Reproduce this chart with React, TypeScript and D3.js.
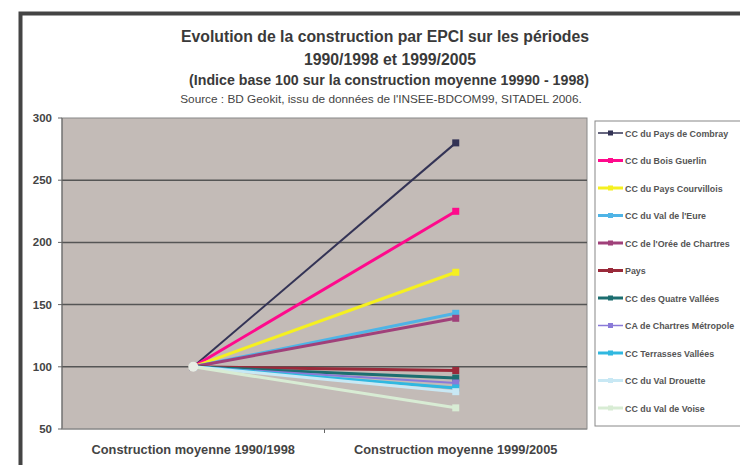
import React from "react";
import * as d3 from "d3";

const categories = ["Construction moyenne 1990/1998", "Construction moyenne 1999/2005"];
const seriesNames = [
  "CC du Pays de Combray",
  "CC du Bois Guerlin",
  "CC du Pays Courvillois",
  "CC du Val de l'Eure",
  "CC de l'Orée de Chartres",
  "Pays",
  "CC des Quatre Vallées",
  "CA de Chartres Métropole",
  "CC Terrasses Vallées",
  "CC du Val Drouette",
  "CC du Val de Voise",
];
const startValues = [100, 100, 100, 100, 100, 100, 100, 100, 100, 100, 100];
const endValues = [280, 225, 176, 143, 139, 97, 91, 87, 83, 80, 67];
const seriesColors = [
  "#333355", "#ff0a8c", "#f5f020", "#4fb4e6", "#a0407a", "#9a2a3a",
  "#1c6e70", "#8a7ad8", "#30b8e0", "#c8e8f4", "#d8ecd4",
];
const yTicks = [50, 100, 150, 200, 250, 300];
const titleLines = [
  "Evolution de la construction par EPCI sur les périodes",
  "1990/1998 et 1999/2005",
  "(Indice base 100 sur la construction moyenne 19990 - 1998)",
];
const sourceText = "Source : BD Geokit, issu de données de l'INSEE-BDCOM99, SITADEL 2006.";

export default function App() {
  const W = 740, H = 465;
  const plot = { left: 62, right: 587, top: 118, bottom: 429 };
  const x = d3.scaleBand<string>().domain(categories).range([plot.left, plot.right]);
  const y = d3.scaleLinear().domain([50, 300]).range([plot.bottom, plot.top]);
  const cx = (c: string) => (x(c) as number) + x.bandwidth() / 2;
  const line = d3.line<[number, number]>().x((d) => d[0]).y((d) => d[1]);
  const legendY0 = 133, legendStep = 27.5;
  const font = "'Liberation Sans', Arial, sans-serif";

  return (
    <svg width={W} height={H} style={{ position: "absolute", left: 0, top: 0, background: "#fff" }} fontFamily={font}>
      <rect x={0} y={0} width={W} height={H} fill="#fff" />
      {/* outer frame */}
      <path d={`M20.5,${H + 5} L20.5,13.5 L${W + 5},13.5`} fill="none" stroke="#444" strokeWidth={4} />
      {/* titles */}
      <text x={385} y={42} textAnchor="middle" fontSize={15.8} fontWeight="bold" fill="#3a3a3a">{titleLines[0]}</text>
      <text x={390} y={65} textAnchor="middle" fontSize={15.8} fontWeight="bold" fill="#3a3a3a">{titleLines[1]}</text>
      <text x={389} y={85} textAnchor="middle" fontSize={14.2} fontWeight="bold" fill="#3a3a3a">{titleLines[2]}</text>
      <text x={381} y={103} textAnchor="middle" fontSize={11.8} fill="#444">{sourceText}</text>
      {/* plot area */}
      <rect x={plot.left} y={plot.top} width={plot.right - plot.left} height={plot.bottom - plot.top} fill="#c3bbb7" stroke="#888" strokeWidth={1} />
      {yTicks.map((t) => (
        <g key={t}>
          {t > 50 && t < 300 && (
            <line x1={plot.left} x2={plot.right} y1={y(t)} y2={y(t)} stroke="#555" strokeWidth={1.5} />
          )}
          <line x1={plot.left - 4} x2={plot.left} y1={y(t)} y2={y(t)} stroke="#666" />
          <text x={52} y={y(t) + 4} textAnchor="end" fontSize={11.5} fontWeight="bold" fill="#444">{t}</text>
        </g>
      ))}
      <line x1={plot.left} x2={plot.left} y1={plot.top} y2={plot.bottom} stroke="#666" />
      <line x1={plot.left} x2={plot.right} y1={plot.bottom} y2={plot.bottom} stroke="#888" />
      <line x1={(plot.left + plot.right) / 2} x2={(plot.left + plot.right) / 2} y1={plot.bottom} y2={plot.bottom + 4} stroke="#666" />
      {categories.map((c) => (
        <text key={c} x={cx(c)} y={454} textAnchor="middle" fontSize={12.8} fontWeight="bold" fill="#444">{c}</text>
      ))}
      {/* series */}
      {seriesNames.map((s, i) => {
        const pts: [number, number][] = [
          [cx(categories[0]), y(startValues[i])],
          [cx(categories[1]), y(endValues[i])],
        ];
        return (
          <g key={s}>
            <path d={line(pts) || ""} fill="none" stroke={seriesColors[i]} strokeWidth={i === 0 || i === 7 ? 2 : 3} />
            {pts.map((p, j) => (
              <rect key={j} x={p[0] - 3.5} y={p[1] - 3.5} width={7} height={7} fill={seriesColors[i]} />
            ))}
          </g>
        );
      })}
      <circle cx={cx(categories[0])} cy={y(100)} r={5} fill="#e8ece4" />
      {/* legend */}
      <rect x={595} y={121} width={160} height={305} fill="#fff" stroke="#888" strokeWidth={1} />
      {seriesNames.map((s, i) => {
        const ly = legendY0 + i * legendStep;
        return (
          <g key={s}>
            <line x1={598} x2={623} y1={ly} y2={ly} stroke={seriesColors[i]} strokeWidth={i === 0 || i === 7 ? 1.5 : 3} />
            <rect x={608} y={ly - 2.5} width={5} height={5} fill={seriesColors[i]} />
            <text x={625} y={ly + 3.5} fontSize={8.9} fontWeight="bold" fill="#555">{s}</text>
          </g>
        );
      })}
    </svg>
  );
}
